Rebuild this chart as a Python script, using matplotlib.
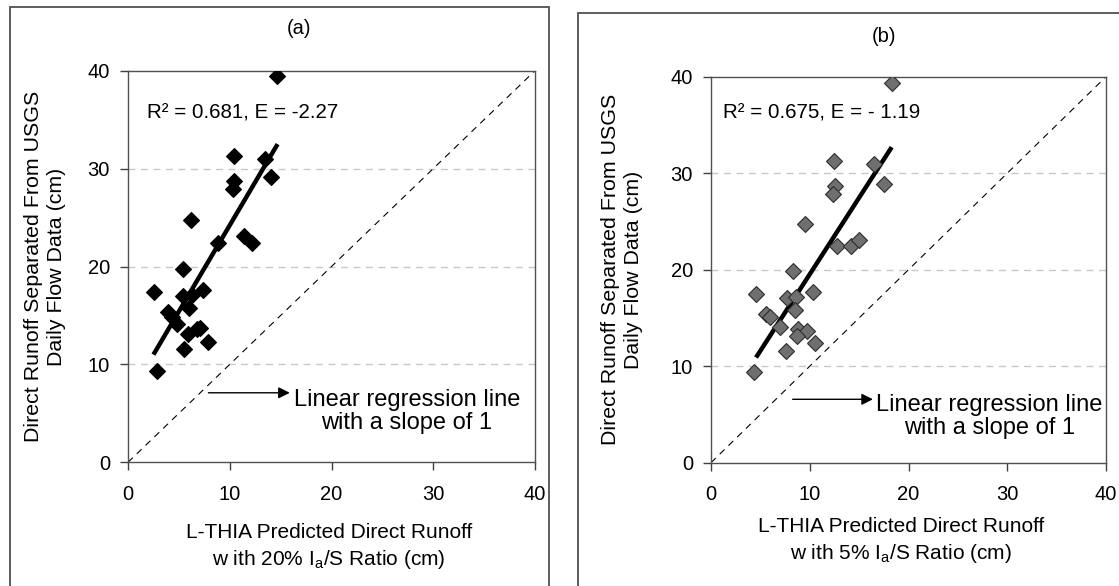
import matplotlib
matplotlib.use("Agg")
import matplotlib.pyplot as plt
from matplotlib.patches import Rectangle
import numpy as np

plt.rcParams['font.family'] = ['Liberation Sans', 'DejaVu Sans']
plt.rcParams['mathtext.fontset'] = 'custom'
plt.rcParams['mathtext.rm'] = 'Liberation Sans'

# ---------------- data ----------------
a_pred = [14.61, 10.45, 13.46, 10.45, 10.29, 14.05, 6.16, 11.40, 12.22, 8.88,
          5.44, 2.56, 7.40, 5.44, 6.26, 6.03, 3.96, 4.29, 4.85, 7.08,
          6.81, 5.93, 7.89, 5.50, 2.82]
a_obs = [39.46, 31.29, 30.95, 28.76, 27.88, 29.11, 24.72, 23.12, 22.37, 22.40,
         19.71, 17.36, 17.60, 16.99, 17.09, 15.73, 15.32, 14.87, 14.09, 13.75,
         13.58, 13.10, 12.32, 11.54, 9.36]
a_reg_x = [2.5, 14.7]
a_reg_y = [11.0, 32.5]

b_pred = [18.30, 12.46, 16.51, 12.56, 12.39, 17.55, 9.52, 12.79, 14.18, 15.02,
          8.34, 4.56, 10.30, 7.73, 8.61, 8.51, 5.57, 5.97, 6.99, 8.84,
          9.69, 8.68, 10.53, 7.59, 4.35]
b_obs = [39.38, 31.30, 30.95, 28.70, 27.84, 28.88, 24.70, 22.49, 22.49, 23.08,
         19.86, 17.45, 17.66, 17.10, 17.20, 15.82, 15.41, 15.07, 14.10, 13.82,
         13.65, 13.13, 12.37, 11.58, 9.37]
b_reg_x = [4.56, 18.3]
b_reg_y = [10.9, 32.7]

one_to_one = [0, 40]
ticks = [0, 10, 20, 30, 40]
grid_levels = [10, 20, 30]

panel_titles = ['(a)', '(b)']
stats = ['R² = 0.681, E = -2.27', 'R² = 0.675, E = - 1.19']
ylabel = 'Direct Runoff Separated From USGS\nDaily Flow Data (cm)'
xlabels = ['L-THIA Predicted Direct Runoff\nw ith 20% $\\mathregular{I_a}$/S Ratio (cm)',
           'L-THIA Predicted Direct Runoff\nw ith 5% $\\mathregular{I_a}$/S Ratio (cm)']
annot = 'Linear regression line\nwith a slope of 1'

# ---------------- figure ----------------
W, H = 1119, 586
fig = plt.figure(figsize=(W / 100, H / 100), dpi=100)
fig.patch.set_facecolor('white')

def fx(px):
    return px / W

def fy(py):
    return 1 - py / H

# outer frames
fig.patches.append(Rectangle((fx(10), fy(600)), fx(549) - fx(10), fy(7) - fy(600),
                             transform=fig.transFigure, fill=False,
                             edgecolor='#505050', lw=1.3))
fig.patches.append(Rectangle((fx(578), fy(600)), fx(1130) - fx(578), fy(13) - fy(600),
                             transform=fig.transFigure, fill=False,
                             edgecolor='#505050', lw=1.3))

specs = [
    dict(box=(128, 70.7, 535, 462.3), x=a_pred, y=a_obs, rx=a_reg_x, ry=a_reg_y,
         fc='black', ec='black', title_xy=(299.5, 29), ylab_x=45,
         stat_xy=(1.84, 35.65), arrow=((7.9, 7.1), (15.9, 7.1)), text_xy=(27.4, 5.2),
         xlab_y=547, xlab_x=329),
    dict(box=(711, 76.7, 1106, 462.7), x=b_pred, y=b_obs, rx=b_reg_x, ry=b_reg_y,
         fc='#6f6f6f', ec='#2e2e2e', title_xy=(884, 37), ylab_x=622,
         stat_xy=(1.18, 36.2), arrow=((8.27, 6.57), (16.4, 6.57)), text_xy=(28.2, 4.8),
         xlab_y=541, xlab_x=901),
]

for i, s in enumerate(specs):
    l, t, r, b = s['box']
    ax = fig.add_axes([fx(l), fy(b), fx(r) - fx(l), fy(t) - fy(b)])
    ax.set_xlim(0, 40)
    ax.set_ylim(0, 40)
    ax.set_xticks(ticks)
    ax.set_yticks(ticks)
    ax.tick_params(direction='out', length=6, width=1, color='#404040',
                   labelsize=14.5, colors='black')
    ax.tick_params(axis='x', pad=10)
    ax.tick_params(axis='y', pad=7)
    for sp in ax.spines.values():
        sp.set_color('#505050')
        sp.set_linewidth(1.0)
    for g in grid_levels:
        ax.axhline(g, color='#c8c8c8', lw=1.0, ls=(0, (5, 4)), zorder=0)
    ax.plot(one_to_one, one_to_one, color='black', lw=0.8, ls=(0, (6, 5)), zorder=1)
    ax.plot(s['rx'], s['ry'], color='black', lw=3.2, solid_capstyle='butt', zorder=3)
    ax.plot(s['x'], s['y'], ls='none', marker='D', markersize=8,
            markerfacecolor=s['fc'], markeredgecolor=s['ec'], markeredgewidth=0.8, zorder=4)
    ax.text(s['stat_xy'][0], s['stat_xy'][1], stats[i], fontsize=14.8,
            ha='left', va='center')
    (x0, y0), (x1, y1) = s['arrow']
    ax.annotate('', xy=(x1, y1), xytext=(x0, y0),
                arrowprops=dict(arrowstyle='-|>', color='black', lw=1.0,
                                mutation_scale=17, shrinkA=0, shrinkB=0))
    ax.text(s['text_xy'][0], s['text_xy'][1], annot, fontsize=17,
            ha='center', va='center', multialignment='center', linespacing=1.1)

    fig.text(fx(s['title_xy'][0]), fy(s['title_xy'][1]), panel_titles[i],
             fontsize=14.5, ha='center', va='center')
    fig.text(fx(s['ylab_x']), fy((t + b) / 2), ylabel, rotation=90, fontsize=15.4,
             ha='center', va='center', multialignment='center', linespacing=1.25)
    fig.text(fx(s['xlab_x']), fy(s['xlab_y']), xlabels[i], fontsize=15,
             ha='center', va='center', multialignment='center', linespacing=1.4)

fig.savefig('out.png', dpi=100, facecolor='white')
